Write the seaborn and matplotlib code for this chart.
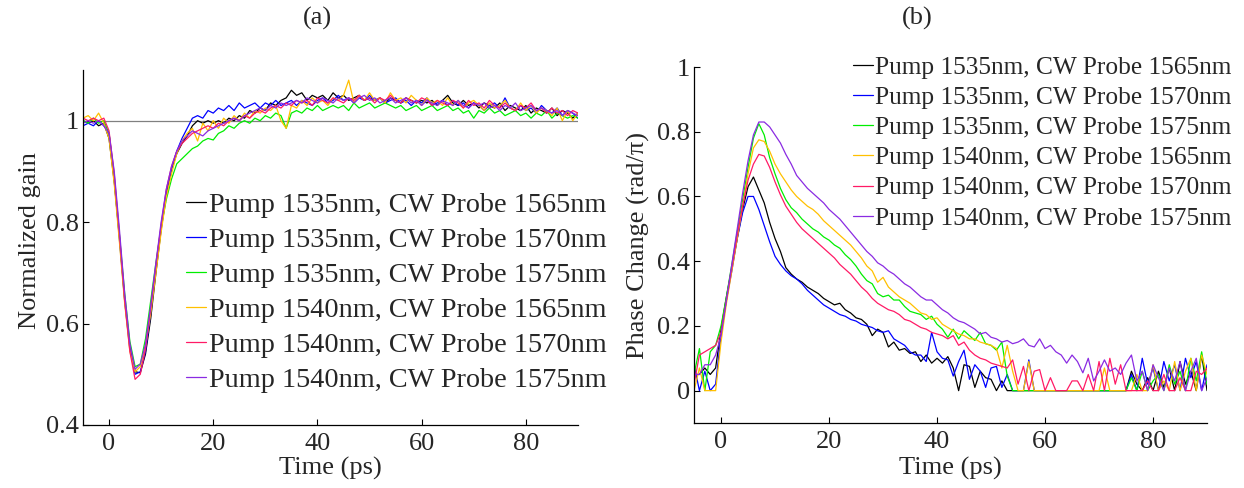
import numpy as np
import matplotlib
matplotlib.use("Agg")
import matplotlib.pyplot as plt
import pandas as pd
import seaborn as sns
from matplotlib.ticker import FuncFormatter

#======================= data =======================
time_ps = list(range(-5, 91))  # 1 ps step

labels = ["Pump 1535nm, CW Probe 1565nm", "Pump 1535nm, CW Probe 1570nm",
          "Pump 1535nm, CW Probe 1575nm", "Pump 1540nm, CW Probe 1565nm",
          "Pump 1540nm, CW Probe 1570nm", "Pump 1540nm, CW Probe 1575nm"]
colors = ["#000000", "#0000FF", "#00EE00", "#FFC000", "#FF1A66", "#8A2BE2"]

# (a) normalized gain
gain_1535_1565 = [1.000, 0.995, 1.000, 0.990, 0.995, 0.965, 0.880, 0.770, 0.650, 0.555,
                  0.505, 0.503, 0.540, 0.610, 0.700, 0.785, 0.855, 0.905, 0.935, 0.955,
                  0.970, 0.990, 1.000, 0.995, 1.000, 0.995, 1.000, 0.995, 1.005, 1.000,
                  1.010, 1.005, 1.020, 1.015, 1.025, 1.020, 1.035, 1.030, 1.040, 1.045,
                  1.060, 1.050, 1.055, 1.040, 1.050, 1.045, 1.050, 1.040, 1.055, 1.045,
                  1.050, 1.040, 1.045, 1.050, 1.040, 1.045, 1.040, 1.045, 1.035, 1.045,
                  1.040, 1.035, 1.045, 1.040, 1.035, 1.040, 1.035, 1.040, 1.030, 1.040,
                  1.050, 1.035, 1.030, 1.040, 1.030, 1.035, 1.025, 1.035, 1.030, 1.025,
                  1.035, 1.020, 1.030, 1.025, 1.020, 1.030, 1.015, 1.025, 1.020, 1.015,
                  1.025, 1.010, 1.020, 1.015, 1.005, 1.015]
gain_1535_1570 = [0.990, 0.995, 0.990, 1.000, 0.990, 0.975, 0.885, 0.765, 0.645, 0.550,
                  0.500, 0.505, 0.545, 0.620, 0.710, 0.790, 0.860, 0.905, 0.940, 0.965,
                  0.985, 1.005, 1.010, 1.005, 1.020, 1.015, 1.025, 1.020, 1.030, 1.020,
                  1.035, 1.025, 1.030, 1.035, 1.025, 1.035, 1.030, 1.040, 1.030, 1.035,
                  1.040, 1.030, 1.040, 1.035, 1.030, 1.040, 1.045, 1.035, 1.040, 1.050,
                  1.040, 1.045, 1.035, 1.045, 1.040, 1.050, 1.040, 1.045, 1.035, 1.040,
                  1.045, 1.035, 1.040, 1.030, 1.040, 1.035, 1.045, 1.030, 1.035, 1.040,
                  1.030, 1.040, 1.030, 1.035, 1.025, 1.035, 1.030, 1.020, 1.030, 1.035,
                  1.025, 1.045, 1.025, 1.020, 1.030, 1.020, 1.025, 1.015, 1.030, 1.020,
                  1.015, 1.025, 1.010, 1.020, 1.015, 1.005]
gain_1535_1575 = [1.000, 0.995, 1.005, 0.995, 1.000, 0.975, 0.890, 0.775, 0.660, 0.565,
                  0.515, 0.520, 0.570, 0.645, 0.720, 0.790, 0.845, 0.885, 0.915, 0.925,
                  0.935, 0.945, 0.950, 0.960, 0.965, 0.962, 0.975, 0.980, 0.990, 0.985,
                  0.995, 1.000, 0.995, 1.005, 1.000, 1.010, 1.005, 1.015, 1.010, 0.985,
                  1.015, 1.020, 1.015, 1.025, 1.020, 1.030, 1.020, 1.025, 1.030, 1.025,
                  1.030, 1.020, 1.035, 1.025, 1.030, 1.035, 1.025, 1.030, 1.035, 1.030,
                  1.025, 1.030, 1.020, 1.025, 1.030, 1.020, 1.025, 1.030, 1.020, 1.025,
                  1.030, 1.020, 1.025, 1.015, 1.020, 1.005, 1.020, 1.015, 1.025, 1.015,
                  1.020, 1.010, 1.015, 1.020, 1.010, 1.015, 1.005, 1.015, 1.010, 1.020,
                  1.005, 1.015, 1.010, 1.005, 1.010, 1.005]
gain_1540_1565 = [1.005, 1.010, 1.000, 1.015, 0.995, 0.965, 0.875, 0.760, 0.640, 0.545,
                  0.505, 0.515, 0.555, 0.620, 0.700, 0.780, 0.850, 0.895, 0.935, 0.960,
                  0.975, 0.985, 0.960, 0.995, 0.980, 1.000, 0.985, 1.005, 0.995, 1.010,
                  1.000, 1.015, 1.005, 1.020, 1.015, 1.025, 1.020, 1.030, 1.000, 0.985,
                  1.030, 1.025, 1.040, 1.030, 1.045, 1.035, 1.040, 1.030, 1.045, 1.040,
                  1.050, 1.080, 1.035, 1.050, 1.040, 1.055, 1.040, 1.045, 1.035, 1.055,
                  1.040, 1.045, 1.035, 1.050, 1.040, 1.030, 1.045, 1.035, 1.040, 1.030,
                  1.045, 1.030, 1.040, 1.025, 1.035, 1.040, 1.030, 1.020, 1.035, 1.025,
                  1.030, 1.040, 1.025, 1.020, 1.035, 1.020, 1.030, 1.015, 1.025, 1.020,
                  1.010, 1.025, 1.000, 1.020, 1.000, 1.015]
gain_1540_1570 = [1.005, 1.000, 1.005, 1.000, 1.005, 0.980, 0.895, 0.775, 0.645, 0.545,
                  0.490, 0.500, 0.550, 0.630, 0.715, 0.795, 0.865, 0.910, 0.940, 0.955,
                  0.965, 0.975, 0.980, 0.985, 0.990, 0.985, 0.995, 0.990, 1.000, 1.005,
                  1.000, 1.010, 1.005, 1.015, 1.020, 1.015, 1.025, 1.030, 1.025, 1.035,
                  1.030, 1.040, 1.035, 1.040, 1.030, 1.045, 1.040, 1.035, 1.045, 1.040,
                  1.035, 1.045, 1.040, 1.050, 1.040, 1.045, 1.035, 1.045, 1.040, 1.050,
                  1.040, 1.035, 1.045, 1.040, 1.035, 1.045, 1.040, 1.030, 1.040, 1.035,
                  1.030, 1.040, 1.035, 1.025, 1.040, 1.030, 1.035, 1.025, 1.040, 1.030,
                  1.025, 1.035, 1.025, 1.020, 1.030, 1.025, 1.035, 1.020, 1.025, 1.015,
                  1.025, 1.015, 1.020, 1.010, 1.020, 1.015]
gain_1540_1575 = [0.995, 1.000, 0.995, 1.000, 0.990, 0.975, 0.900, 0.785, 0.660, 0.560,
                  0.510, 0.520, 0.560, 0.635, 0.720, 0.800, 0.865, 0.910, 0.940, 0.960,
                  0.970, 0.980, 0.975, 0.970, 0.980, 0.985, 0.990, 0.995, 1.000, 1.005,
                  1.000, 1.010, 1.015, 1.020, 1.025, 1.020, 1.030, 1.025, 1.035, 1.030,
                  1.035, 1.040, 1.035, 1.045, 1.040, 1.035, 1.045, 1.040, 1.035, 1.045,
                  1.040, 1.045, 1.035, 1.045, 1.050, 1.040, 1.045, 1.035, 1.040, 1.045,
                  1.035, 1.040, 1.045, 1.035, 1.040, 1.030, 1.040, 1.035, 1.030, 1.040,
                  1.035, 1.030, 1.040, 1.030, 1.025, 1.035, 1.030, 1.035, 1.025, 1.030,
                  1.020, 1.030, 1.025, 1.035, 1.020, 1.025, 1.030, 1.020, 1.025, 1.020,
                  1.015, 1.020, 1.010, 1.020, 1.015, 1.010]

# (b) phase change (rad/pi)
phase_1535_1565 = [0.05, 0.05, 0.07, 0.05, 0.07, 0.19, 0.29, 0.38, 0.47, 0.56,
                   0.63, 0.66, 0.62, 0.58, 0.52, 0.47, 0.43, 0.38, 0.36, 0.345,
                   0.335, 0.32, 0.31, 0.30, 0.285, 0.275, 0.265, 0.27, 0.25, 0.24,
                   0.225, 0.22, 0.205, 0.17, 0.19, 0.18, 0.135, 0.15, 0.125, 0.13,
                   0.115, 0.12, 0.09, 0.11, 0.085, 0.10, 0.085, 0.105, 0.07, 0.00,
                   0.08, 0.075, 0.01, 0.06, 0.04, 0.035, 0.00, 0.03, 0.00, 0.00,
                   0.00, 0.00, 0.00, 0.00, 0.00, 0.00, 0.00, 0.00, 0.00, 0.00,
                   0.00, 0.00, 0.00, 0.00, 0.00, 0.00, 0.00, 0.00, 0.00, 0.00,
                   0.00, 0.06, 0.02, 0.00, 0.04, 0.00, 0.06, 0.01, 0.07, 0.00,
                   0.09, 0.02, 0.06, 0.00, 0.11, 0.00]
phase_1535_1570 = [0.08, 0.00, 0.06, 0.00, 0.02, 0.17, 0.28, 0.37, 0.47, 0.55,
                   0.60, 0.60, 0.56, 0.51, 0.46, 0.415, 0.39, 0.37, 0.355, 0.345,
                   0.33, 0.31, 0.295, 0.28, 0.265, 0.255, 0.245, 0.235, 0.23, 0.22,
                   0.215, 0.205, 0.20, 0.195, 0.185, 0.18, 0.185, 0.16, 0.15, 0.14,
                   0.12, 0.11, 0.11, 0.09, 0.18, 0.12, 0.10, 0.095, 0.045, 0.09,
                   0.125, 0.035, 0.08, 0.06, 0.01, 0.07, 0.075, 0.01, 0.05, 0.00,
                   0.00, 0.00, 0.095, 0.00, 0.00, 0.00, 0.00, 0.00, 0.00, 0.00,
                   0.00, 0.00, 0.00, 0.00, 0.00, 0.00, 0.00, 0.00, 0.00, 0.00,
                   0.00, 0.05, 0.00, 0.10, 0.02, 0.07, 0.00, 0.09, 0.03, 0.08,
                   0.00, 0.10, 0.04, 0.09, 0.00, 0.08]
phase_1535_1575 = [0.05, 0.13, 0.00, 0.12, 0.14, 0.20, 0.29, 0.39, 0.49, 0.59,
                   0.69, 0.78, 0.825, 0.79, 0.72, 0.67, 0.625, 0.59, 0.565, 0.55,
                   0.53, 0.515, 0.50, 0.49, 0.475, 0.465, 0.45, 0.44, 0.42, 0.405,
                   0.385, 0.36, 0.34, 0.33, 0.30, 0.29, 0.295, 0.28, 0.28, 0.26,
                   0.245, 0.24, 0.235, 0.22, 0.23, 0.205, 0.19, 0.165, 0.19, 0.16,
                   0.185, 0.17, 0.155, 0.18, 0.145, 0.14, 0.125, 0.15, 0.045, 0.00,
                   0.00, 0.00, 0.00, 0.00, 0.00, 0.00, 0.00, 0.00, 0.00, 0.00,
                   0.00, 0.00, 0.00, 0.00, 0.00, 0.00, 0.00, 0.00, 0.00, 0.00,
                   0.00, 0.04, 0.00, 0.06, 0.00, 0.03, 0.05, 0.00, 0.08, 0.02,
                   0.06, 0.00, 0.10, 0.03, 0.12, 0.02]
phase_1540_1565 = [0.00, 0.07, 0.00, 0.00, 0.00, 0.15, 0.27, 0.37, 0.47, 0.57,
                   0.67, 0.75, 0.775, 0.77, 0.74, 0.70, 0.67, 0.645, 0.62, 0.60,
                   0.585, 0.57, 0.56, 0.545, 0.525, 0.51, 0.495, 0.48, 0.465, 0.45,
                   0.43, 0.41, 0.385, 0.37, 0.335, 0.35, 0.32, 0.305, 0.29, 0.28,
                   0.27, 0.255, 0.24, 0.235, 0.22, 0.225, 0.205, 0.195, 0.185, 0.175,
                   0.17, 0.16, 0.16, 0.15, 0.145, 0.14, 0.13, 0.07, 0.14, 0.06,
                   0.00, 0.00, 0.09, 0.00, 0.00, 0.00, 0.00, 0.00, 0.00, 0.00,
                   0.00, 0.00, 0.00, 0.00, 0.00, 0.00, 0.07, 0.00, 0.00, 0.00,
                   0.00, 0.00, 0.05, 0.00, 0.00, 0.08, 0.00, 0.03, 0.00, 0.09,
                   0.00, 0.06, 0.10, 0.00, 0.11, 0.05]
phase_1540_1570 = [0.02, 0.11, 0.12, 0.13, 0.14, 0.18, 0.28, 0.38, 0.48, 0.57,
                   0.65, 0.70, 0.73, 0.725, 0.69, 0.645, 0.605, 0.57, 0.545, 0.52,
                   0.50, 0.485, 0.47, 0.455, 0.44, 0.425, 0.41, 0.39, 0.375, 0.36,
                   0.34, 0.32, 0.305, 0.285, 0.27, 0.26, 0.25, 0.245, 0.235, 0.22,
                   0.215, 0.205, 0.195, 0.19, 0.18, 0.175, 0.17, 0.16, 0.17, 0.14,
                   0.15, 0.125, 0.11, 0.10, 0.095, 0.085, 0.08, 0.075, 0.07, 0.095,
                   0.02, 0.075, 0.00, 0.06, 0.065, 0.00, 0.04, 0.00, 0.00, 0.00,
                   0.03, 0.03, 0.00, 0.05, 0.00, 0.09, 0.00, 0.10, 0.02, 0.08,
                   0.00, 0.00, 0.00, 0.00, 0.03, 0.00, 0.00, 0.05, 0.00, 0.00,
                   0.04, 0.00, 0.00, 0.06, 0.05, 0.07]
phase_1540_1575 = [0.05, 0.05, 0.08, 0.08, 0.11, 0.17, 0.28, 0.39, 0.50, 0.61,
                   0.71, 0.79, 0.83, 0.83, 0.815, 0.79, 0.765, 0.73, 0.70, 0.665,
                   0.645, 0.625, 0.61, 0.595, 0.58, 0.56, 0.545, 0.53, 0.51, 0.49,
                   0.47, 0.45, 0.43, 0.415, 0.395, 0.385, 0.37, 0.36, 0.345, 0.33,
                   0.32, 0.305, 0.29, 0.28, 0.28, 0.265, 0.25, 0.24, 0.225, 0.215,
                   0.21, 0.20, 0.19, 0.175, 0.18, 0.165, 0.16, 0.15, 0.155, 0.145,
                   0.15, 0.16, 0.14, 0.135, 0.16, 0.13, 0.14, 0.12, 0.11, 0.085,
                   0.11, 0.09, 0.055, 0.10, 0.03, 0.06, 0.095, 0.06, 0.07, 0.05,
                   0.085, 0.11, 0.03, 0.06, 0.00, 0.08, 0.04, 0.00, 0.07, 0.03,
                   0.09, 0.00, 0.06, 0.10, 0.00, 0.04]

gain_series = [gain_1535_1565, gain_1535_1570, gain_1535_1575,
               gain_1540_1565, gain_1540_1570, gain_1540_1575]
phase_series = [phase_1535_1565, phase_1535_1570, phase_1535_1575,
                phase_1540_1565, phase_1540_1570, phase_1540_1575]

#======================= frames =======================
def long_frame(series_list, col):
    rows = []
    for lab, vals in zip(labels, series_list):
        rows.append(pd.DataFrame({"t": time_ps, col: vals, "series": lab}))
    return pd.concat(rows, ignore_index=True)

df_gain = long_frame(gain_series, "gain")
df_phase = long_frame(phase_series, "phase")

#======================= style =======================
sns.set_style("ticks")
plt.rcParams["font.family"] = ["Liberation Serif", "DejaVu Serif"]
plt.rcParams["xtick.direction"] = "in"
plt.rcParams["ytick.direction"] = "in"
plt.rcParams["axes.linewidth"] = 0.9

fig = plt.figure(figsize=(12.44, 4.88), dpi=100)
ax1 = fig.add_axes([0.0667, 0.1291, 0.3979, 0.7275])
ax2 = fig.add_axes([0.5579, 0.1332, 0.4124, 0.7295])

pal = dict(zip(labels, colors))
fmt = FuncFormatter(lambda v, p: f"{v:g}")

# ---- (a)
sns.lineplot(data=df_gain, x="t", y="gain", hue="series", palette=pal,
             hue_order=labels, estimator=None, linewidth=0.9, legend=False, ax=ax1)
hands1 = list(ax1.lines[:6])
ax1.axhline(1, color="#808080", linewidth=0.9, zorder=0)
ax1.set_xlim(-5, 90)
ax1.set_ylim(0.4, 1.1)
ax1.set_yticks([0.4, 0.6, 0.8, 1.0])
ax1.set_xlabel("Time (ps)", fontsize=19)
ax1.set_ylabel("Normalized gain", fontsize=19)
ax1.xaxis.set_label_coords(0.5, -0.09)
ax1.yaxis.set_label_coords(-0.085, 0.52)
fig.legend(hands1, labels, loc="upper left", bbox_to_anchor=(186 / 1244, 1 - 192 / 488),
           frameon=False, fontsize=20.3, handlelength=0.72, handletextpad=0.08,
           labelspacing=0.33, borderpad=0, borderaxespad=0)

# ---- (b)
sns.lineplot(data=df_phase, x="t", y="phase", hue="series", palette=pal,
             hue_order=labels, estimator=None, linewidth=0.9, legend=False, ax=ax2)
hands2 = list(ax2.lines[:6])
ax2.set_xlim(-5, 90)
ax2.set_ylim(-0.1, 1)
ax2.set_yticks([0, 0.2, 0.4, 0.6, 0.8, 1.0])
ax2.set_xlabel("Time (ps)", fontsize=19)
ax2.set_ylabel("Phase Change (rad/\u03c0)", fontsize=19)
ax2.xaxis.set_label_coords(0.5, -0.095)
ax2.yaxis.set_label_coords(-0.085, 0.5)
fig.legend(hands2, labels, loc="upper left", bbox_to_anchor=(853 / 1244, 1 - 56 / 488),
           frameon=False, fontsize=18.3, handlelength=0.8, handletextpad=0.08,
           labelspacing=0.29, borderpad=0, borderaxespad=0)

for ax in (ax1, ax2):
    ax.set_xticks([0, 20, 40, 60, 80])
    ax.xaxis.set_major_formatter(fmt)
    ax.yaxis.set_major_formatter(fmt)
    ax.tick_params(axis="x", labelsize=19, length=4, width=0.8, pad=6, color="black")
    ax.tick_params(axis="y", labelsize=19, length=4, width=0.8, pad=3, color="black")
    sns.despine(ax=ax)
    for s in ("left", "bottom"):
        ax.spines[s].set_color("black")

fig.text(317 / 1244, 1 - 18 / 488, "(a)", ha="center", va="center", fontsize=19)
fig.text(917 / 1244, 1 - 18 / 488, "(b)", ha="center", va="center", fontsize=19)

fig.savefig("out.png", dpi=100)
